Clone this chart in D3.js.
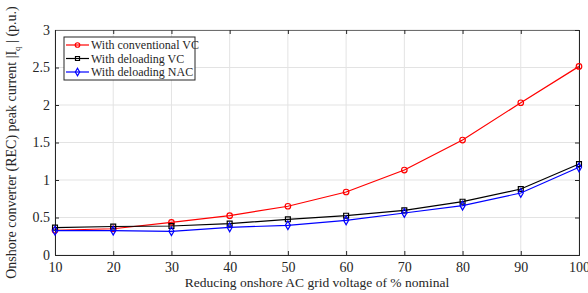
<!DOCTYPE html>
<html>
<head>
<meta charset="utf-8">
<script src="https://cdn.jsdelivr.net/npm/d3@7"></script>
<style>
body { margin: 0; background: #fff; }
text { font-family: "Liberation Serif", "Times New Roman", serif; fill: #262626; }
</style>
</head>
<body>
<div id="chart"></div>
<script>
// voltage (% nominal)
var voltages = [10, 20, 30, 40, 50, 60, 70, 80, 90, 100];
// peak current (p.u.)
var conventionalVC = [0.33, 0.35, 0.435, 0.525, 0.65, 0.84, 1.133, 1.533, 2.03, 2.515];
var deloadingVC = [0.365, 0.38, 0.387, 0.418, 0.476, 0.524, 0.595, 0.711, 0.88, 1.213];
var deloadingNAC = [0.325, 0.325, 0.316, 0.369, 0.396, 0.462, 0.56, 0.658, 0.827, 1.169];
var seriesNames = ["With conventional VC", "With deloading VC", "With deloading NAC"];
var xTicks = [10, 20, 30, 40, 50, 60, 70, 80, 90, 100];
var yTicks = [0, 0.5, 1, 1.5, 2, 2.5, 3];

var width = 588, height = 293;
var margin = {top: 30, right: 9, bottom: 38, left: 55};

var svg = d3.select("#chart").append("svg")
  .attr("width", width)
  .attr("height", height);

var x = d3.scaleLinear()
  .domain([10, 100])
  .range([margin.left, width - margin.right]);

var y = d3.scaleLinear()
  .domain([0, 3])
  .range([height - margin.bottom, margin.top]);

// grid
svg.append("g")
  .selectAll("line.vgrid")
  .data(xTicks)
  .enter()
  .append("line")
  .attr("x1", d => x(d)).attr("x2", d => x(d))
  .attr("y1", y(0)).attr("y2", y(3))
  .attr("stroke", "#e3e3e3").attr("stroke-width", 1);

svg.append("g")
  .selectAll("line.hgrid")
  .data(yTicks)
  .enter()
  .append("line")
  .attr("x1", x(10)).attr("x2", x(100))
  .attr("y1", d => y(d)).attr("y2", d => y(d))
  .attr("stroke", "#e3e3e3").attr("stroke-width", 1);

// axes
var xAxis = d3.axisBottom(x).tickValues(xTicks).tickSize(-4).tickPadding(7).tickFormat(d3.format("d"));
var yAxis = d3.axisLeft(y).tickValues(yTicks).tickSize(-4).tickPadding(5).tickFormat(d => d);

var gx = svg.append("g")
  .attr("transform", `translate(0, ${y(0)})`)
  .call(xAxis);
var gy = svg.append("g")
  .attr("transform", `translate(${x(10)}, 0)`)
  .call(yAxis);

var gxTop = svg.append("g")
  .attr("transform", `translate(0, ${y(3)})`)
  .call(d3.axisTop(x).tickValues(xTicks).tickSize(-4).tickFormat(""));
var gyRight = svg.append("g")
  .attr("transform", `translate(${x(100)}, 0)`)
  .call(d3.axisRight(y).tickValues(yTicks).tickSize(-4).tickFormat(""));

[gx, gy, gxTop, gyRight].forEach(g => {
  g.select(".domain").attr("stroke", "#262626").attr("stroke-width", 1);
  g.selectAll(".tick line").attr("stroke", "#262626");
  g.selectAll(".tick text").style("font-size", "14px").attr("fill", "#262626");
});
gxTop.select(".domain").attr("stroke", "#6e6e6e");

// axis labels
svg.append("text")
  .attr("x", x(55))
  .attr("y", height - 6)
  .attr("text-anchor", "middle")
  .style("font-size", "13.5px")
  .text("Reducing onshore AC grid voltage of % nominal");

var yl = svg.append("text")
  .attr("transform", `translate(16, ${y(1.5)}) rotate(-90)`)
  .attr("text-anchor", "middle")
  .style("font-size", "14px");
yl.append("tspan").text("Onshore converter (REC) peak current |I");
yl.append("tspan").attr("dy", 4).style("font-size", "9px").text("q");
yl.append("tspan").attr("dy", -4).text(" | (p.u.)");

// series
var series = [
  {name: seriesNames[0], values: conventionalVC, color: "#ff0000", marker: d3.symbolCircle},
  {name: seriesNames[1], values: deloadingVC, color: "#000000", marker: d3.symbolSquare},
  {name: seriesNames[2], values: deloadingNAC, color: "#0000ff", marker: d3.symbolDiamond}
];

var line = d3.line()
  .x((d, i) => x(voltages[i]))
  .y(d => y(d));

series.forEach(s => {
  svg.append("path")
    .datum(s.values)
    .attr("fill", "none")
    .attr("stroke", s.color)
    .attr("stroke-width", 1.2)
    .attr("d", line);

  svg.selectAll(null)
    .data(s.values)
    .enter()
    .append("path")
    .attr("transform", (d, i) => `translate(${x(voltages[i])}, ${y(d)})`)
    .attr("d", d3.symbol().type(s.marker).size(s.marker === d3.symbolDiamond ? 22 : 24))
    .attr("fill", "none")
    .attr("stroke", s.color)
    .attr("stroke-width", 1.2);
});

// legend
var legend = svg.append("g").attr("transform", "translate(64, 37)");
legend.append("rect")
  .attr("width", 131).attr("height", 43)
  .attr("fill", "#fff")
  .attr("stroke", "#262626").attr("stroke-width", 1);

series.forEach((s, i) => {
  var ly = 8 + i * 13.5;
  legend.append("line")
    .attr("x1", 2).attr("x2", 25)
    .attr("y1", ly).attr("y2", ly)
    .attr("stroke", s.color).attr("stroke-width", 1.2);
  legend.append("path")
    .attr("transform", `translate(13.5, ${ly})`)
    .attr("d", d3.symbol().type(s.marker).size(16))
    .attr("fill", "none")
    .attr("stroke", s.color)
    .attr("stroke-width", 1.2);
  legend.append("text")
    .attr("x", 27)
    .attr("y", ly + 4)
    .style("font-size", "12px")
    .text(s.name);
});
</script>
</body>
</html>
